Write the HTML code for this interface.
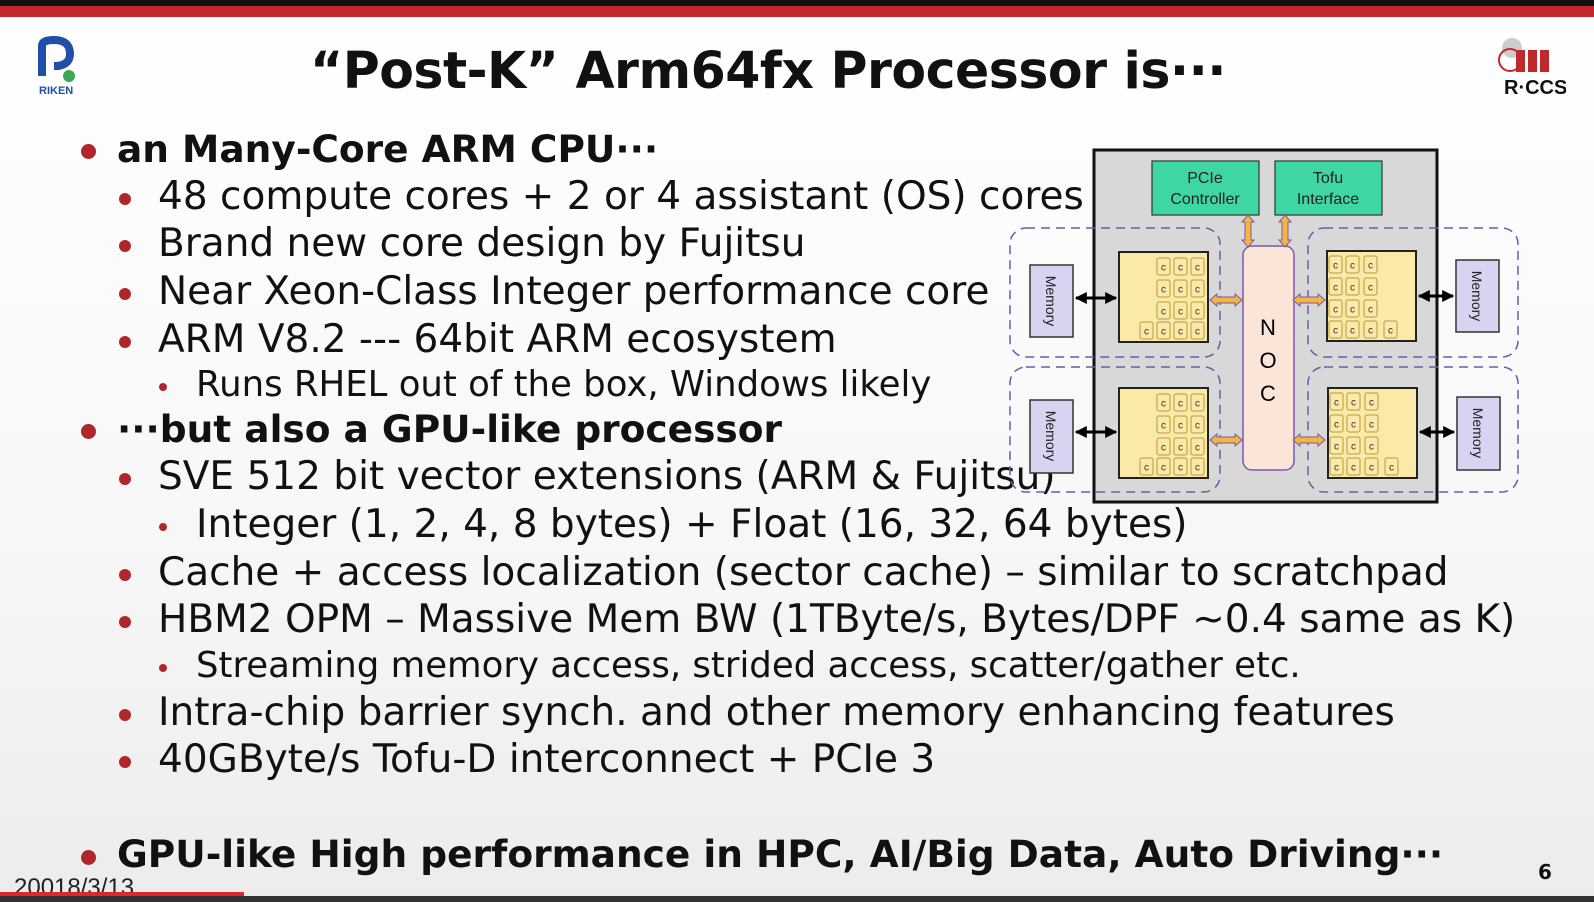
<!DOCTYPE html>
<html><head><meta charset="utf-8"><style>
html,body{margin:0;padding:0}
body{width:1594px;height:902px;position:relative;overflow:hidden;background:linear-gradient(180deg,#fff 0%,#f7f7f7 60%,#ececec 100%);font-family:"DejaVu Sans","Liberation Sans",sans-serif;color:#111}
.t{position:absolute;white-space:nowrap;line-height:1}
.b{position:absolute;border-radius:50%;background:#b0262a}
.l1{font-weight:bold;font-size:37.5px}
.l2{font-size:39px}
.l3{font-size:35.5px}
</style></head><body>
<div style="position:absolute;left:0;top:0;width:1594px;height:6px;background:#111"></div>
<div style="position:absolute;left:0;top:6px;width:1594px;height:11px;background:#c0282b"></div>
<svg style="position:absolute;left:36px;top:36px" width="46" height="60" viewBox="0 0 46 60">
<path d="M6 40 V10 Q6 4 18 4 Q34 4 34 18 Q34 28 22 30 L18 30" fill="none" stroke="#1f4fa8" stroke-width="8"/>
<circle cx="33" cy="40" r="6" fill="#3aa65a"/>
<text x="3" y="58" font-size="11" font-family="Liberation Sans" fill="#1f4fa8" font-weight="bold">RIKEN</text>
</svg>
<div class="t" style="left:310px;top:46px;font-size:50.5px;font-weight:bold;letter-spacing:-0.5px">“Post-K” Arm64fx Processor is···</div>
<svg style="position:absolute;left:1496px;top:38px" width="70" height="60" viewBox="0 0 70 60">
<circle cx="16" cy="10" r="10" fill="#ccc"/>
<circle cx="14" cy="22" r="11" fill="none" stroke="#c0282b" stroke-width="2"/>
<rect x="20" y="12" width="9" height="22" fill="#c0282b"/><rect x="32" y="12" width="9" height="22" fill="#c0282b"/><rect x="44" y="12" width="9" height="22" fill="#c0282b"/>
<text x="8" y="56" font-size="20" font-weight="bold" font-family="Liberation Sans" fill="#111">R·CCS</text>
</svg>

<div class="b" style="left:81px;top:144px;width:15px;height:15px"></div>
<div class="t l1" style="left:117px;top:131px">an Many-Core ARM CPU···</div>
<div class="b" style="left:119px;top:193px;width:12px;height:12px"></div>
<div class="t l2" style="left:158px;top:177px">48 compute cores + 2 or 4 assistant (OS) cores</div>
<div class="b" style="left:119px;top:240px;width:12px;height:12px"></div>
<div class="t l2" style="left:158px;top:224px">Brand new core design by Fujitsu</div>
<div class="b" style="left:119px;top:288px;width:12px;height:12px"></div>
<div class="t l2" style="left:158px;top:272px">Near Xeon-Class Integer performance core</div>
<div class="b" style="left:119px;top:336px;width:12px;height:12px"></div>
<div class="t l2" style="left:158px;top:320px">ARM V8.2 --- 64bit ARM ecosystem</div>
<div class="b" style="left:159px;top:383px;width:8px;height:8px"></div>
<div class="t l3" style="left:196px;top:367px">Runs RHEL out of the box, Windows likely</div>
<div class="b" style="left:81px;top:424px;width:15px;height:15px"></div>
<div class="t l1" style="left:117px;top:411px">···but also a GPU-like processor</div>
<div class="b" style="left:119px;top:473px;width:12px;height:12px"></div>
<div class="t l2" style="left:158px;top:457px">SVE 512 bit vector extensions (ARM &amp; Fujitsu)</div>
<div class="b" style="left:159px;top:523px;width:8px;height:8px"></div>
<div class="t l3" style="left:196px;top:505px;font-size:39px">Integer (1, 2, 4, 8 bytes) + Float (16, 32, 64 bytes)</div>
<div class="b" style="left:119px;top:569px;width:12px;height:12px"></div>
<div class="t l2" style="left:158px;top:553px">Cache + access localization (sector cache) – similar to scratchpad</div>
<div class="b" style="left:119px;top:616px;width:12px;height:12px"></div>
<div class="t l2" style="left:158px;top:600px">HBM2 OPM – Massive Mem BW (1TByte/s, Bytes/DPF ~0.4 same as K)</div>
<div class="b" style="left:159px;top:664px;width:8px;height:8px"></div>
<div class="t l3" style="left:196px;top:648px">Streaming memory access, strided access, scatter/gather etc.</div>
<div class="b" style="left:119px;top:709px;width:12px;height:12px"></div>
<div class="t l2" style="left:158px;top:693px">Intra-chip barrier synch. and other memory enhancing features</div>
<div class="b" style="left:119px;top:756px;width:12px;height:12px"></div>
<div class="t l2" style="left:158px;top:740px">40GByte/s Tofu-D interconnect + PCIe 3</div>
<div class="b" style="left:81px;top:850px;width:15px;height:15px"></div>
<div class="t l1" style="left:117px;top:836px">GPU-like High performance in HPC, AI/Big Data, Auto Driving···</div>
<div class="t" style="left:14px;top:876px;font-size:24px;font-family:'Liberation Sans',sans-serif;color:#222">20018/3/13</div>
<div style="position:absolute;left:0;top:892px;width:244px;height:4px;background:#e0262a"></div>
<div style="position:absolute;left:0;top:896px;width:1594px;height:6px;background:#333"></div>
<div class="t" style="left:1538px;top:862px;font-size:20px;font-weight:bold">6</div>

<svg style="position:absolute;left:0;top:0" width="1594" height="902" viewBox="0 0 1594 902">
<defs>
<marker id="ah" viewBox="0 0 10 10" refX="9" refY="5" markerWidth="4" markerHeight="4" orient="auto-start-reverse"><path d="M0 0L10 5L0 10z" fill="#000"/></marker>
<g id="oa"><path d="M0 0 L7 -6 L7 -3 L25 -3 L25 -6 L32 0 L25 6 L25 3 L7 3 L7 6Z" fill="#f4b63d" stroke="#7b58b0" stroke-width="1"/></g>
<g id="cell"><rect width="13" height="17" rx="2" fill="#fbe9a8" stroke="#b59a3d" stroke-width="1"/><text x="6.5" y="12.5" font-size="10" text-anchor="middle" font-family="Liberation Sans" fill="#333">c</text></g>
</defs>
<rect x="1094" y="150" width="343" height="352" fill="#d8d8d8" stroke="#111" stroke-width="3"/>
<rect x="1152" y="161" width="107" height="54" fill="#3fd6a6" stroke="#333" stroke-width="1.2"/>
<text x="1205" y="183" font-size="16" text-anchor="middle" font-family="Liberation Sans" fill="#222">PCIe</text>
<text x="1205" y="204" font-size="16" text-anchor="middle" font-family="Liberation Sans" fill="#222">Controller</text>
<rect x="1275" y="161" width="107" height="54" fill="#3fd6a6" stroke="#333" stroke-width="1.2"/>
<text x="1328" y="183" font-size="16" text-anchor="middle" font-family="Liberation Sans" fill="#222">Tofu</text>
<text x="1328" y="204" font-size="16" text-anchor="middle" font-family="Liberation Sans" fill="#222">Interface</text>
<g fill="none" stroke="#6a5ca8" stroke-width="1.5" stroke-dasharray="9 6">
<rect x="1010" y="228" width="210" height="129" rx="16"/>
<rect x="1010" y="367" width="210" height="125" rx="16"/>
<rect x="1308" y="228" width="210" height="129" rx="16"/>
<rect x="1308" y="367" width="210" height="125" rx="16"/>
</g>
<rect x="1243" y="246" width="51" height="224" rx="9" fill="#fbe4d8" stroke="#7b58b0" stroke-width="1.5"/>
<text x="1268" y="335" font-size="22" text-anchor="middle" font-family="Liberation Sans">N</text>
<text x="1268" y="368" font-size="22" text-anchor="middle" font-family="Liberation Sans">O</text>
<text x="1268" y="401" font-size="22" text-anchor="middle" font-family="Liberation Sans">C</text>
<use href="#oa" transform="translate(1248,215) rotate(90)"/>
<use href="#oa" transform="translate(1285,215) rotate(90)"/>
<use href="#oa" transform="translate(1210,300)"/>
<use href="#oa" transform="translate(1293,300)"/>
<use href="#oa" transform="translate(1210,440)"/>
<use href="#oa" transform="translate(1293,440)"/>
<g fill="#fbe9a8" stroke="#222" stroke-width="2">
<rect x="1119" y="252" width="89" height="90"/>
<rect x="1327" y="251" width="89" height="90"/>
<rect x="1119" y="388" width="89" height="90"/>
<rect x="1328" y="388" width="89" height="90"/>
</g>
<g>
<use href="#cell" x="1157" y="258"/><use href="#cell" x="1174" y="258"/><use href="#cell" x="1191" y="258"/>
<use href="#cell" x="1157" y="280"/><use href="#cell" x="1174" y="280"/><use href="#cell" x="1191" y="280"/>
<use href="#cell" x="1157" y="302"/><use href="#cell" x="1174" y="302"/><use href="#cell" x="1191" y="302"/>
<use href="#cell" x="1140" y="322"/><use href="#cell" x="1157" y="322"/><use href="#cell" x="1174" y="322"/><use href="#cell" x="1191" y="322"/>
<use href="#cell" x="1157" y="394"/><use href="#cell" x="1174" y="394"/><use href="#cell" x="1191" y="394"/>
<use href="#cell" x="1157" y="416"/><use href="#cell" x="1174" y="416"/><use href="#cell" x="1191" y="416"/>
<use href="#cell" x="1157" y="438"/><use href="#cell" x="1174" y="438"/><use href="#cell" x="1191" y="438"/>
<use href="#cell" x="1140" y="458"/><use href="#cell" x="1157" y="458"/><use href="#cell" x="1174" y="458"/><use href="#cell" x="1191" y="458"/>
<use href="#cell" x="1329" y="256"/><use href="#cell" x="1346" y="256"/><use href="#cell" x="1364" y="256"/>
<use href="#cell" x="1329" y="278"/><use href="#cell" x="1346" y="278"/><use href="#cell" x="1364" y="278"/>
<use href="#cell" x="1329" y="300"/><use href="#cell" x="1346" y="300"/><use href="#cell" x="1364" y="300"/>
<use href="#cell" x="1329" y="321"/><use href="#cell" x="1346" y="321"/><use href="#cell" x="1364" y="321"/><use href="#cell" x="1384" y="321"/>
<use href="#cell" x="1330" y="393"/><use href="#cell" x="1347" y="393"/><use href="#cell" x="1365" y="393"/>
<use href="#cell" x="1330" y="415"/><use href="#cell" x="1347" y="415"/><use href="#cell" x="1365" y="415"/>
<use href="#cell" x="1330" y="437"/><use href="#cell" x="1347" y="437"/><use href="#cell" x="1365" y="437"/>
<use href="#cell" x="1330" y="458"/><use href="#cell" x="1347" y="458"/><use href="#cell" x="1365" y="458"/><use href="#cell" x="1385" y="458"/>
</g>
<g fill="#d6d4f0" stroke="#333" stroke-width="1.5">
<rect x="1030" y="265" width="43" height="72"/>
<rect x="1030" y="400" width="43" height="73"/>
<rect x="1456" y="260" width="43" height="72"/>
<rect x="1457" y="397" width="43" height="73"/>
</g>
<g font-size="14" font-family="Liberation Sans" fill="#222" text-anchor="middle">
<text transform="translate(1046,301) rotate(90)">Memory</text>
<text transform="translate(1046,436) rotate(90)">Memory</text>
<text transform="translate(1472,296) rotate(90)">Memory</text>
<text transform="translate(1473,433) rotate(90)">Memory</text>
</g>
<g stroke="#000" stroke-width="3" marker-start="url(#ah)" marker-end="url(#ah)">
<line x1="1076" y1="298" x2="1116" y2="298"/>
<line x1="1076" y1="432" x2="1116" y2="432"/>
<line x1="1419" y1="296" x2="1453" y2="296"/>
<line x1="1420" y1="432" x2="1454" y2="432"/>
</g>
</svg>
</body></html>
